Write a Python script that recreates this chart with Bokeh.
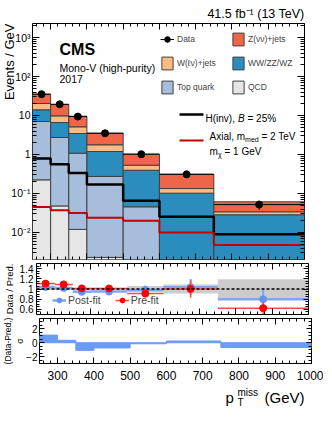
import numpy as np
from bokeh.plotting import figure
from bokeh.layouts import column
from bokeh.models import (Range1d, LinearAxis, LogAxis, FixedTicker, Label, Arrow, Title,
                          Legend, LegendItem, Span, CustomJSTickFormatter)
from bokeh.embed import file_html
from bokeh.resources import INLINE

# ---------------- data ----------------
bin_edges = [250, 300, 350, 400, 500, 600, 750, 1000]
qcd = [0.224, 0.048, 0.012, 0.0023, 0.0, 0.0, 0.0]
top_quark = [6.78, 2.68, 1.07, 0.271, 0.0456, 0.0005, 0.0002]
diboson = [7.0, 3.87, 2.37, 0.92, 0.349, 0.1015, 0.0283]
wlnu = [6.3, 3.2, 1.68, 0.58, 0.137, 0.032, 0.0055]
znunu = [14.9, 9.3, 4.47, 1.75, 0.488, 0.179, 0.0272]
data = [35.2, 19.4, 9.4, 3.5, 1.02, 0.31, 0.052]
data_err = [0.84, 0.62, 0.43, 0.19, 0.10, 0.045, 0.0135]
hinv = [0.79, 0.56, 0.336, 0.170, 0.065, 0.0253, 0.00904]
axial = [0.045, 0.0373, 0.0316, 0.0239, 0.020, 0.0100, 0.00478]

postfit = [1.04, 1.02, 0.945, 0.95, 0.98, 1.035, 0.80]
postfit_err = [0.025, 0.025, 0.03, 0.035, 0.09, 0.16, 0.22]
prefit = [1.106, 1.09, 1.012, 1.01, 0.91, 1.0, 0.625]
prefit_err = [0.025, 0.025, 0.03, 0.035, 0.07, 0.17, 0.12]
band_unc = [0.02, 0.02, 0.025, 0.025, 0.06, 0.09, 0.19]
pull = [1.1, 0.35, -1.1, -0.75, -0.15, 0.25, -0.7]

x_ticks = [300, 400, 500, 600, 700, 800, 900, 1000]
x_labels = ["300", "400", "500", "600", "700", "800", "900", "1000"]
main_y_ticks = [0.01, 0.1, 1, 10, 100, 1000]
main_y_labels = ["10⁻²", "10⁻¹", "1", "10", "10²", "10³"]
ratio_ticks = [0.6, 0.8, 1.0, 1.2, 1.4]
ratio_labels = ["0.6", "0.8", "1", "1.2", "1.4"]
pull_ticks = [-2, 0, 2]
pull_labels = ["−2", "0", "2"]

FONT = "Liberation Sans"
lo = np.array(bin_edges[:-1], float)
hi = np.array(bin_edges[1:], float)
ctr = (lo + hi) / 2

FW, BL, BR = 272, 32, 12     # frame width, left/right borders -> frame page x 40..312
FL = 8 + BL
xr = Range1d(250, 1000)


def no_align(p):
    try:
        p.frame_align = False
    except Exception:
        pass


def make_fig(fh, y_range, y_log, top, bottom):
    p = figure(frame_width=FW, frame_height=fh, x_range=xr, y_range=y_range,
               y_axis_type="log" if y_log else "linear",
               output_backend="svg", toolbar_location=None,
               min_border_left=BL, min_border_right=BR,
               min_border_top=top, min_border_bottom=bottom)
    p.grid.grid_line_color = None
    p.outline_line_color = "black"
    p.outline_line_width = 1
    p.outline_line_alpha = 1
    p.background_fill_color = "white"
    p.border_fill_color = "white"
    no_align(p)
    return p


def blank_fig(fh):
    p = figure(frame_width=FW, frame_height=fh, x_range=Range1d(0, 1), y_range=Range1d(0, 1),
               x_axis_type=None, y_axis_type=None, output_backend="svg",
               toolbar_location=None, min_border_left=BL, min_border_right=BR,
               min_border_top=0, min_border_bottom=0)
    p.grid.grid_line_color = None
    p.outline_line_color = None
    p.background_fill_color = "white"
    p.border_fill_color = "white"
    no_align(p)
    return p


def style(ax, ticker, mj, mn, ticks=None, labels=None, size="11px", standoff=3):
    ax.ticker = ticker
    ax.axis_line_color = None
    ax.major_tick_in = mj
    ax.major_tick_out = 0
    ax.minor_tick_in = mn
    ax.minor_tick_out = 0
    ax.major_tick_line_color = "black"
    ax.minor_tick_line_color = "black"
    if labels is None:
        ax.formatter = CustomJSTickFormatter(code="return ''")
        ax.major_label_text_font_size = "0px"
        ax.major_label_standoff = 0
    else:
        ax.major_label_overrides = {t: l for t, l in zip(ticks, labels)}
        ax.major_label_text_font = FONT
        ax.major_label_text_font_size = size
        ax.major_label_standoff = standoff
        ax.major_label_text_color = "black"


def ytitle(ax, text, size, standoff):
    ax.axis_label = text
    ax.axis_label_text_font = FONT
    ax.axis_label_text_font_size = size
    ax.axis_label_text_font_style = "normal"
    ax.axis_label_text_color = "black"
    ax.axis_label_standoff = standoff


def xticker():
    return FixedTicker(ticks=x_ticks, minor_ticks=list(range(260, 1000, 20)))


def label(p, text, x, y, size, **kw):
    p.add_layout(Label(x=x, y=y, x_units="screen", y_units="screen",
                       text=text, text_font=FONT, text_font_size=size,
                       text_color="black", text_baseline="alphabetic", **kw))


# ---------------- top strip (lumi) ----------------
T = blank_fig(21)            # page y 8..29
label(T, "41.5 fb⁻¹ (13 TeV)", 312 - FL, 29 - 21.5, "12.5px", text_align="right")

# ---------------- main panel ----------------
p1 = make_fig(236, Range1d(0.00203, 2286), True, 2, 2)   # frame page y 31..267
FB1 = 267
log_minor = [m * 10.0 ** e for e in range(-3, 4) for m in range(2, 10)]
style(p1.xaxis[0], xticker(), 6, 3)
style(p1.yaxis[0], FixedTicker(ticks=main_y_ticks, minor_ticks=log_minor), 7, 4,
      main_y_ticks, main_y_labels, "10.5px", 2)
p1.add_layout(Title(text="Events / GeV", align="right", vertical_align="bottom",
                    standoff=-17, offset=0, text_font=FONT, text_font_size="13px",
                    text_font_style="normal", text_color="black"), "left")
ax = LinearAxis(); style(ax, xticker(), 6, 3); p1.add_layout(ax, "above")
ax = LogAxis(); style(ax, FixedTicker(ticks=main_y_ticks, minor_ticks=log_minor), 7, 4)
p1.add_layout(ax, "right")

stack = [("QCD", qcd, "#e6e6e6"), ("Top quark", top_quark, "#a6bddb"),
         ("WW/ZZ/WZ", diboson, "#2b8cbe"), ("W(ℓν)+jets", wlnu, "#fdbb84"),
         ("Z(νν)+jets", znunu, "#ef6548")]
base = np.zeros(len(lo))
rend = {}
for name, vals, col in stack:
    top = base + np.array(vals)
    rend[name] = p1.quad(left=lo, right=hi, bottom=np.maximum(base, 1e-4),
                         top=np.maximum(top, 1e-4), fill_color=col,
                         line_color="#404040", line_width=1)
    base = top

p1.step(x=bin_edges, y=hinv + [hinv[-1]], mode="after", line_color="black", line_width=2.5)
p1.step(x=bin_edges, y=axial + [axial[-1]], mode="after", line_color="#c40000", line_width=2)

d = np.array(data); de = np.array(data_err)
r_dh = p1.segment(x0=lo, y0=d, x1=hi, y1=d, line_color="black", line_width=1)
p1.segment(x0=ctr, y0=d - de, x1=ctr, y1=d + de, line_color="black", line_width=1.2)
r_dd = p1.scatter(ctr, d, size=7, color="black")


def legend(items, x, y):
    lg = Legend(items=items, location=(x, y), glyph_width=14, glyph_height=16,
                label_height=16, spacing=8, padding=0, margin=0, label_standoff=3,
                label_text_font=FONT, label_text_font_size="8.5px",
                border_line_alpha=0, background_fill_alpha=0)
    p1.add_layout(lg)


legend([LegendItem(label="Data", renderers=[r_dh, r_dd]),
        LegendItem(label="W(ℓν)+jets", renderers=[rend["W(ℓν)+jets"]]),
        LegendItem(label="Top quark", renderers=[rend["Top quark"]])], 168 - FL, FB1 - 103)
legend([LegendItem(label="Z(νν)+jets", renderers=[rend["Z(νν)+jets"]]),
        LegendItem(label="WW/ZZ/WZ", renderers=[rend["WW/ZZ/WZ"]]),
        LegendItem(label="QCD", renderers=[rend["QCD"]])], 239 - FL, FB1 - 103)

# signal legend
p1.add_layout(Arrow(end=None, x_start=187 - FL, y_start=FB1 - 122, x_end=211 - FL, y_end=FB1 - 122,
                    start_units="screen", end_units="screen", line_color="black", line_width=2.5))
p1.add_layout(Arrow(end=None, x_start=187 - FL, y_start=FB1 - 148, x_end=211 - FL, y_end=FB1 - 148,
                    start_units="screen", end_units="screen", line_color="#c40000", line_width=2))
label(p1, "H(inv),", 213 - FL, FB1 - 125.5, "10px")
label(p1, "B", 245.5 - FL, FB1 - 125.5, "10px", text_font_style="italic")
label(p1, "= 25%", 255 - FL, FB1 - 125.5, "10px")
label(p1, "Axial, m", 217 - FL, FB1 - 143.5, "10px")
label(p1, "med", 252.6 - FL, FB1 - 146.5, "7px")
label(p1, "= 2 TeV", 269 - FL, FB1 - 143.5, "10px")
label(p1, "m", 217 - FL, FB1 - 158.5, "10px")
label(p1, "χ", 225.5 - FL, FB1 - 161.5, "7px")
label(p1, "= 1 GeV", 232 - FL, FB1 - 158.5, "10px")

label(p1, "CMS", 67 - FL, FB1 - 57, "16px", text_font_style="bold")
label(p1, "Mono-V (high-purity)", 67 - FL, FB1 - 75.5, "10.5px")
label(p1, "2017", 67 - FL, FB1 - 86.5, "10.5px")

# ---------------- ratio panel ----------------
p2 = make_fig(51, Range1d(0.5, 1.5), False, 2, 2)       # frame page y 271..322
rminor = list(np.arange(0.5, 1.51, 0.05))
style(p2.xaxis[0], xticker(), 6, 3)
style(p2.yaxis[0], FixedTicker(ticks=ratio_ticks, minor_ticks=rminor),
      5, 3, ratio_ticks, ratio_labels, "10px", 3)
ytitle(p2.yaxis[0], "Data / Pred.", "9.5px", 2)
ax = LinearAxis(); style(ax, xticker(), 6, 3); p2.add_layout(ax, "above")
ax = LinearAxis(); style(ax, FixedTicker(ticks=ratio_ticks, minor_ticks=rminor), 5, 3)
p2.add_layout(ax, "right")

bu = np.array(band_unc)
p2.quad(left=lo, right=hi, bottom=1 - bu, top=1 + bu, fill_color="#cccccc", line_color=None)
p2.add_layout(Span(location=1, dimension="width", line_color="black", line_width=1.5,
                   line_dash="3 2"))
pf = np.array(postfit); pfe = np.array(postfit_err)
r_bh = p2.segment(x0=lo, y0=pf, x1=hi, y1=pf, line_color="#7ca7f7", line_width=2.5)
p2.segment(x0=ctr, y0=pf - pfe, x1=ctr, y1=pf + pfe, line_color="#7ca7f7", line_width=2)
r_bd = p2.scatter(ctr, pf, size=7, color="#6495ed")
pr = np.array(prefit); pre = np.array(prefit_err)
r_rh = p2.segment(x0=lo, y0=pr, x1=hi, y1=pr, line_color="#ff4a4a", line_width=1.5)
p2.segment(x0=ctr, y0=pr - pre, x1=ctr, y1=pr + pre, line_color="#ff4a4a", line_width=1.5)
r_rd = p2.scatter(ctr, pr, size=7, color="#ff0000")

lg2 = Legend(items=[LegendItem(label="Post-fit", renderers=[r_bh, r_bd]),
                    LegendItem(label="Pre-fit", renderers=[r_rh, r_rd])],
             location=(56 - FL, 8), orientation="horizontal", glyph_width=14, glyph_height=12,
             label_height=12, spacing=14, padding=0, margin=0, label_standoff=2,
             label_text_font=FONT, label_text_font_size="10.5px",
             border_line_alpha=0, background_fill_alpha=0)
p2.add_layout(lg2)

# ---------------- pull panel ----------------
p3 = make_fig(45, Range1d(-3, 3.5), False, 2, 22)       # frame page y 326..371
pminor = list(np.arange(-3, 3.51, 0.5))
style(p3.xaxis[0], xticker(), 6, 3, x_ticks, x_labels, "12px", 7)
style(p3.yaxis[0], FixedTicker(ticks=pull_ticks, minor_ticks=pminor),
      5, 3, pull_ticks, pull_labels, "10px", 2)
ytitle(p3.yaxis[0], "(Data-Pred.)\nσ", "8.5px", -2)
ax = LinearAxis(); style(ax, xticker(), 6, 3); p3.add_layout(ax, "above")
ax = LinearAxis(); style(ax, FixedTicker(ticks=pull_ticks, minor_ticks=pminor), 5, 3)
p3.add_layout(ax, "right")

p3.quad(left=lo, right=hi, bottom=0, top=pull, fill_color="#6a9bf5",
        line_color="#6a9bf5", line_width=1)

# ---------------- bottom strip (x title) ----------------
B = blank_fig(22)            # page y 393..415
label(B, "p", 233 - FL, 415 - 405, "15px")
label(B, "miss", 245 - FL, 415 - 399.5, "10px")
label(B, "T", 245 - FL, 415 - 410, "10px")
label(B, "(GeV)", 312 - FL, 415 - 405, "15px", text_align="right")

layout = column(T, p1, p2, p3, B, spacing=0)
open("out.html", "w").write(file_html(layout, INLINE))
